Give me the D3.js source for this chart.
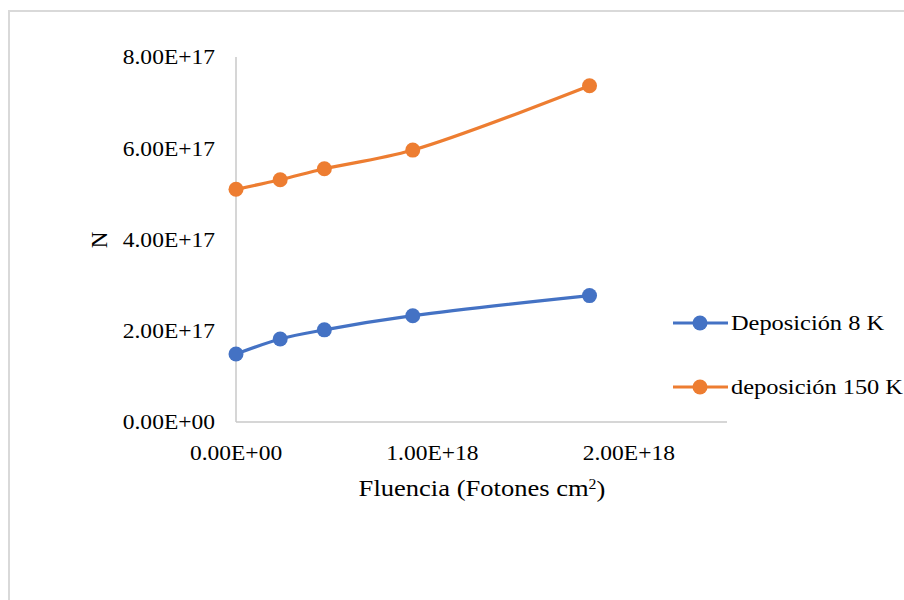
<!DOCTYPE html>
<html>
<head>
<meta charset="utf-8">
<script src="https://cdn.jsdelivr.net/npm/d3@7/dist/d3.min.js"></script>
<style>
  html, body { margin: 0; padding: 0; background: #fff; }
  svg { display: block; }
  text { font-family: "Liberation Serif", "Times New Roman", serif; fill: #000; }
</style>
</head>
<body>
<svg id="chart" width="904" height="600"></svg>
<script>
// Fluence values (photons cm^2)
const fluence = [0, 0.225e18, 0.45e18, 0.9e18, 1.8e18];
// N for each deposition temperature
const dep8K = [1.49e17, 1.82e17, 2.02e17, 2.33e17, 2.77e17];
const dep150K = [5.10e17, 5.31e17, 5.55e17, 5.96e17, 7.37e17];
const seriesNames = ["Deposición 8 K", "deposición 150 K"];
const xTicks = [0, 1e18, 2e18];
const yTicks = [0, 2e17, 4e17, 6e17, 8e17];

const colors = ["#4472C4", "#ED7D31"];
const series = [dep8K, dep150K].map((vals, i) => ({
  name: seriesNames[i],
  color: colors[i],
  points: vals.map((v, j) => ({ x: fluence[j], y: v }))
}));

const svg = d3.select("#chart");

// Chart frame
svg.append("rect")
  .attr("x", 9).attr("y", 11)
  .attr("width", 920).attr("height", 620)
  .attr("fill", "none")
  .attr("stroke", "#d9d9d9")
  .attr("stroke-width", 2);

const x = d3.scaleLinear().domain([0, 2.5e18]).range([236, 727]);
const y = d3.scaleLinear().domain([0, 8e17]).range([422, 57]);

const fmt = v => {
  if (v === 0) return "0.00E+00";
  const e = Math.floor(Math.log10(v));
  return (v / Math.pow(10, e)).toFixed(2) + "E+" + e;
};

// Text is set slightly wide, as in the original document
function wideText(parent, px, py, sx, size, anchor) {
  return parent.append("g")
    .attr("transform", `translate(${px},${py}) scale(${sx},1)`)
    .append("text")
    .attr("dy", "0.35em")
    .attr("text-anchor", anchor)
    .attr("font-size", size);
}

// Axis lines
svg.append("line")
  .attr("x1", x(0)).attr("x2", x(0))
  .attr("y1", y(8e17)).attr("y2", y(0))
  .attr("stroke", "#c8c8c8").attr("stroke-width", 1.5);
svg.append("line")
  .attr("x1", x(0)).attr("x2", x(2.5e18))
  .attr("y1", y(0)).attr("y2", y(0))
  .attr("stroke", "#c8c8c8").attr("stroke-width", 1.5);

// Y tick labels
yTicks.forEach(d => {
  wideText(svg, 215, y(d), 1.12, 21, "end").text(fmt(d));
});

// X tick labels
xTicks.forEach(d => {
  wideText(svg, x(d), 453, 1.12, 21, "middle").text(fmt(d));
});

// Axis titles
const xt = wideText(svg, 482, 488, 1.13, 23.5, "middle");
xt.append("tspan").text("Fluencia (Fotones cm");
xt.append("tspan").attr("font-size", 14).attr("dy", "-0.55em").text("2");
xt.append("tspan").attr("dy", "0.35em").text(")");

svg.append("text")
  .attr("transform", "translate(99,240) rotate(-90)")
  .attr("dy", "0.35em")
  .attr("text-anchor", "middle")
  .attr("font-size", 23)
  .text("N");

// Lines and markers
const line = d3.line()
  .x(d => x(d.x))
  .y(d => y(d.y))
  .curve(d3.curveCatmullRom.alpha(0.5));

series.forEach(s => {
  svg.append("path")
    .datum(s.points)
    .attr("d", line)
    .attr("fill", "none")
    .attr("stroke", s.color)
    .attr("stroke-width", 3.2)
    .attr("stroke-linecap", "round");
  svg.selectAll(null).data(s.points).enter().append("circle")
    .attr("cx", d => x(d.x))
    .attr("cy", d => y(d.y))
    .attr("r", 7.5)
    .attr("fill", s.color);
});

// Legend
const legendY = [323, 387];
series.forEach((s, i) => {
  const g = svg.append("g");
  g.append("line")
    .attr("x1", 673).attr("x2", 728)
    .attr("y1", legendY[i]).attr("y2", legendY[i])
    .attr("stroke", s.color).attr("stroke-width", 3.2);
  g.append("circle")
    .attr("cx", 700).attr("cy", legendY[i]).attr("r", 7.5)
    .attr("fill", s.color);
  wideText(svg, 731, legendY[i], 1.19, 20.5, "start").text(s.name);
});
</script>
</body>
</html>
